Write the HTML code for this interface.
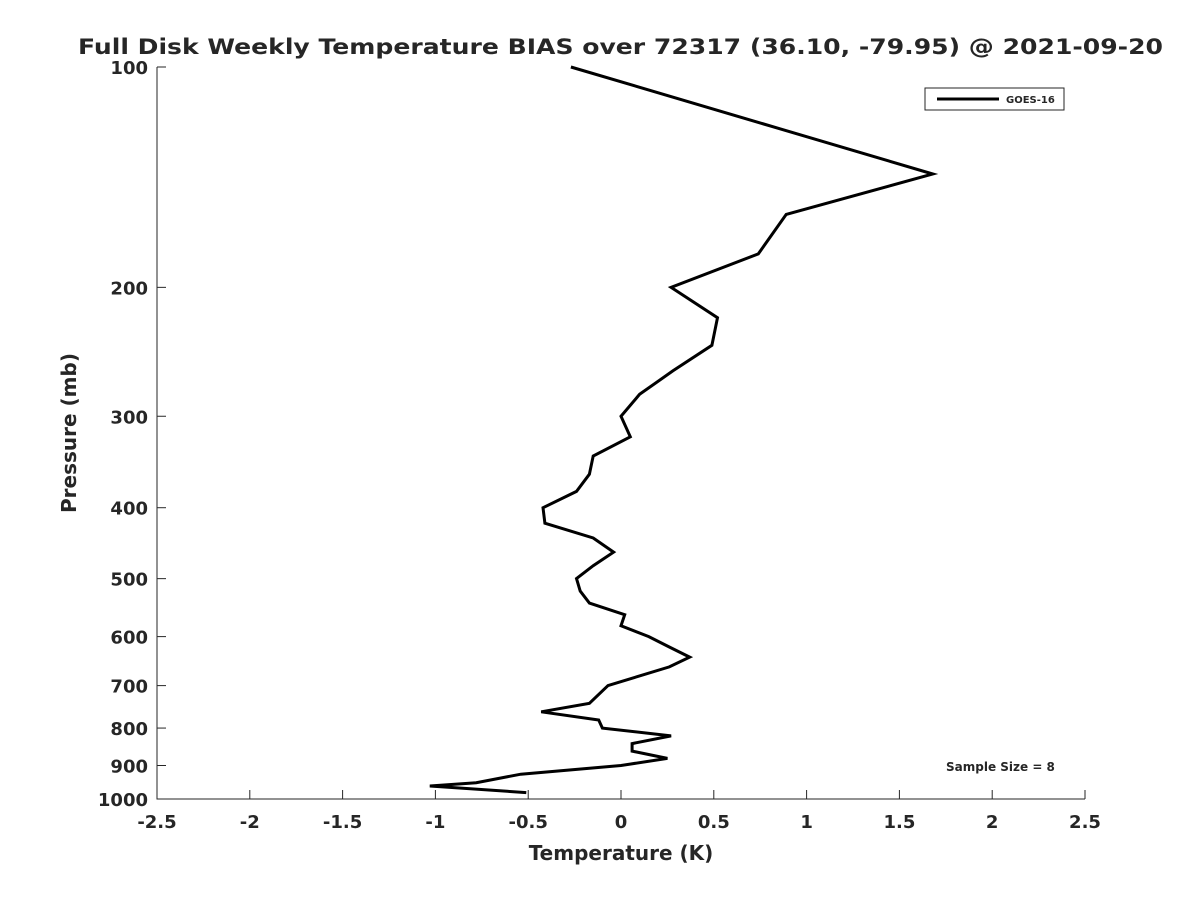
<!DOCTYPE html>
<html><head><meta charset="utf-8"><style>
body{margin:0;background:#fff;}
text{font-family:"DejaVu Sans","Liberation Sans",sans-serif;font-weight:bold;fill:#262626;}
</style></head><body>
<svg id="chart" width="1200" height="900" xmlns="http://www.w3.org/2000/svg">
<rect width="1200" height="900" fill="#fff"/>
<text x="78" y="54" font-size="21" textLength="1085" lengthAdjust="spacingAndGlyphs" fill="#000">Full Disk Weekly Temperature BIAS over 72317 (36.10, -79.95) @ 2021-09-20</text>
<g id="axes"></g>
<g id="plot"></g>
<g>
<rect x="925" y="88" width="139" height="22" fill="#fff" stroke="#262626" stroke-width="1"/>
<line x1="937" y1="99" x2="999" y2="99" stroke="#000" stroke-width="3"/>
<text x="1006" y="103" font-size="10">GOES-16</text>
</g>
<text x="946" y="771" font-size="12" fill="#000">Sample Size = 8</text>
<text x="621" y="860" font-size="20" text-anchor="middle">Temperature (K)</text>
<text transform="translate(76,433) rotate(-90)" font-size="20" text-anchor="middle">Pressure (mb)</text>
</svg>
<script>
const xTicks=[-2.5,-2,-1.5,-1,-0.5,0,0.5,1,1.5,2,2.5];
const xTickLabels=["-2.5","-2","-1.5","-1","-0.5","0","0.5","1","1.5","2","2.5"];
const yTicks=[100,200,300,400,500,600,700,800,900,1000];
const yTickLabels=["100","200","300","400","500","600","700","800","900","1000"];
const pressures=[100,140,159,180,200,220,240,260,280,300,320,340,360,380,400,420,440,460,480,500,520,540,560,580,600,620,640,660,700,740,760,780,800,820,840,860,880,900,925,950,960,980];
const bias=[-0.27,1.68,0.89,0.74,0.27,0.52,0.49,0.28,0.10,0,0.05,-0.15,-0.17,-0.24,-0.42,-0.41,-0.15,-0.04,-0.15,-0.24,-0.22,-0.17,0.02,0,0.15,0.26,0.37,0.26,-0.07,-0.17,-0.43,-0.12,-0.10,0.27,0.06,0.06,0.25,0,-0.54,-0.78,-1.03,-0.51];
const X0=157,X1=1085,Y0=67,Y1=799;
const xs=v=>X0+(v+2.5)/5*(X1-X0);
const ys=p=>Y0+Math.log10(p/100)*(Y1-Y0);
const NS="http://www.w3.org/2000/svg";
const axes=document.getElementById('axes'),plot=document.getElementById('plot');
function mk(tag,attrs,parent){const e=document.createElementNS(NS,tag);for(const k in attrs)e.setAttribute(k,attrs[k]);parent.appendChild(e);return e;}
let a=mk('path',{d:`M${X0},${Y0}V${Y1}H${X1}`,fill:'none',stroke:'#262626','stroke-width':1},axes);


xTicks.forEach((v,i)=>{
 const x=xs(v);
 mk('line',{x1:x,y1:Y1,x2:x,y2:Y1-9,stroke:'#262626'},axes);
 const t=mk('text',{x:x,y:Y1+29,'font-size':18,'text-anchor':'middle'},axes);
 t.textContent=xTickLabels[i];
 
 
});
yTicks.forEach((p,i)=>{
 const y=ys(p);
 mk('line',{x1:X0,y1:y,x2:X0+9,y2:y,stroke:'#262626'},axes);
 const t=mk('text',{x:X0-9,y:y+7,'font-size':18,'text-anchor':'end'},axes);
 t.textContent=yTickLabels[i];
 
 
});
const d=pressures.map((p,i)=>(i?'L':'M')+xs(bias[i]).toFixed(1)+','+ys(p).toFixed(1)).join('');
const line=mk('path',{d:d,fill:'none',stroke:'#000','stroke-width':3,'stroke-linejoin':'miter'},plot);


</script>
</body></html>
